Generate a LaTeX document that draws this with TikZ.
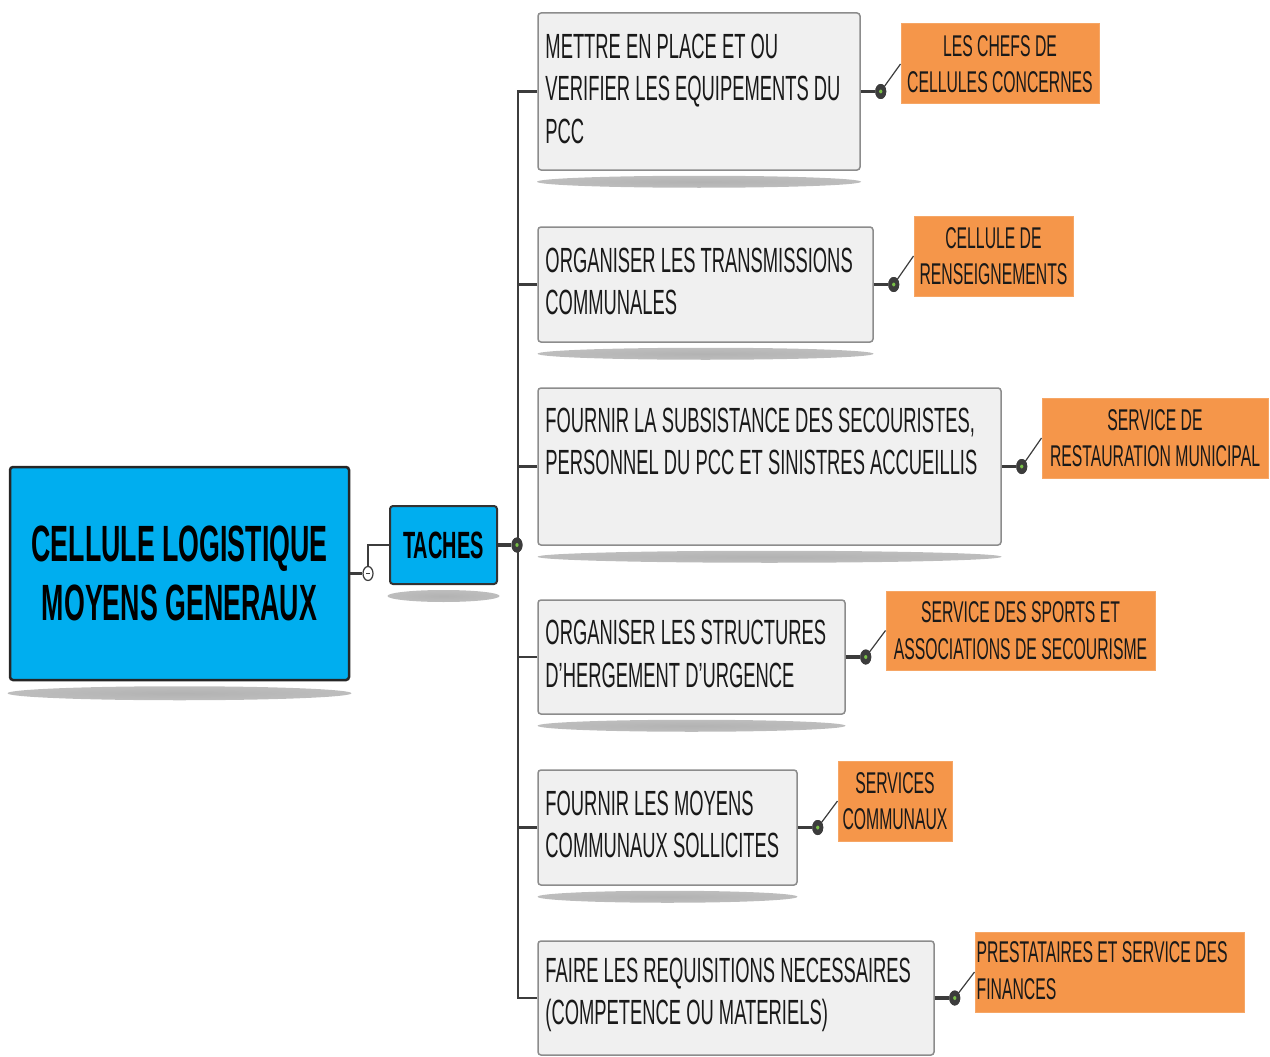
\documentclass[tikz,border=0pt]{standalone}
\usepackage{fontspec}
\setmainfont{Liberation Sans}[FakeStretch=0.525]
\usetikzlibrary{calc,backgrounds,shapes.geometric}
\definecolor{rootblue}{RGB}{0,174,239}
\definecolor{taskfill}{RGB}{240,240,240}
\definecolor{taskline}{RGB}{140,140,140}
\definecolor{orangefill}{RGB}{245,150,74}
\definecolor{linkcol}{RGB}{60,60,60}
\definecolor{dotgreen}{RGB}{120,190,70}
\definecolor{txt}{RGB}{25,25,25}
\pgfdeclareradialshading{shadowshade}{\pgfpoint{0bp}{0bp}}{color(0bp)=(black!30); color(30bp)=(black!25); color(50bp)=(white)}
\begin{document}
\begin{tikzpicture}[x=1pt,y=-1pt,
  rootbox/.style={draw=black!85, line width=2.5pt, fill=rootblue, rounded corners=3pt,
    minimum width=339pt, minimum height=213pt, inner sep=0pt, align=center,
    font=\bfseries\fontsize{51}{59}\selectfont, text=black},
  tachebox/.style={draw=black!80, line width=2pt, fill=rootblue, rounded corners=3pt,
    minimum width=107pt, minimum height=78pt, inner sep=0pt, align=center,
    font=\bfseries\fontsize{38}{44}\selectfont, text=black},
  taskbox/.style={draw=taskline, line width=1.5pt, fill=taskfill, rounded corners=3pt, inner sep=0pt},
  tasktext/.style={anchor=west, inner sep=0pt, align=left,
    font=\fontsize{35}{42.5}\selectfont, text=txt},
  callout/.style={fill=orangefill, draw=orangefill!85!white, line width=1pt, inner sep=0pt,
    align=center, font=\fontsize{30}{36.5}\selectfont, text=txt},
  callouttext/.style={anchor=west, inner sep=0pt, align=left,
    font=\fontsize{30}{37}\selectfont, text=txt},
  link/.style={draw=linkcol, line width=2.2pt},
  thicklink/.style={draw=linkcol, line width=3.2pt},
  thinlink/.style={draw=linkcol, line width=1.2pt},
  smalldot/.style={ellipse, fill=linkcol, minimum width=11pt, minimum height=15pt, inner sep=0pt,
    path picture={\fill[dotgreen] (path picture bounding box.center) ellipse [x radius=1.6pt, y radius=2pt];}},
  minuscircle/.style={ellipse, draw=linkcol, line width=1.2pt, fill=white, minimum width=10pt, minimum height=14pt, inner sep=0pt,
    path picture={\draw[linkcol, line width=1pt] ($(path picture bounding box.center)+(-2,0)$) -- ($(path picture bounding box.center)+(2,0)$);}},
  shadowell/.style={shading=shadowshade}
]
\useasboundingbox (0,0) rectangle (1270,1057);

% main nodes
\node[rootbox] (root) at (179.5,573.5) {CELLULE LOGISTIQUE\\MOYENS GENERAUX};
\node[tachebox] (tache) at (443.5,545) {TACHES};

% task boxes
\node[taskbox, minimum width=322pt, minimum height=157pt] (t1) at (699,91.5) {};
\node[taskbox, minimum width=335pt, minimum height=115pt] (t2) at (705.5,284.5) {};
\node[taskbox, minimum width=463pt, minimum height=157pt] (t3) at (769.5,466.5) {};
\node[taskbox, minimum width=307pt, minimum height=114pt] (t4) at (691.5,657) {};
\node[taskbox, minimum width=259pt, minimum height=115pt] (t5) at (667.5,827.5) {};
\node[taskbox, minimum width=396pt, minimum height=114pt] (t6) at (736,998) {};

% task texts
\node[tasktext] (x1) at ($(t1.west)+(8,-3)$) {METTRE EN PLACE ET OU\\VERIFIER LES EQUIPEMENTS DU\\PCC};
\node[tasktext] (x2) at ($(t2.west)+(8,-3)$) {ORGANISER LES TRANSMISSIONS\\COMMUNALES};
\node[tasktext] (x3) at ($(t3.west)+(8,-25)$) {FOURNIR LA SUBSISTANCE DES SECOURISTES,\\PERSONNEL DU PCC ET SINISTRES ACCUEILLIS};
\node[tasktext] (x4) at ($(t4.west)+(8,-3)$) {ORGANISER LES STRUCTURES\\D'HERGEMENT D'URGENCE};
\node[tasktext] (x5) at ($(t5.west)+(8,-3)$) {FOURNIR LES MOYENS\\COMMUNAUX SOLLICITES};
\node[tasktext] (x6) at ($(t6.west)+(8,-3)$) {FAIRE LES REQUISITIONS NECESSAIRES\\(COMPETENCE OU MATERIELS)};

% callouts
\node[callout, minimum width=198pt, minimum height=80pt] (c1) at (1000,64) {LES CHEFS DE\\CELLULES CONCERNES};
\node[callout, minimum width=159pt, minimum height=80pt] (c2) at (993.5,256) {CELLULE DE\\RENSEIGNEMENTS};
\node[callout, minimum width=226pt, minimum height=80pt] (c3) at (1155,438) {SERVICE DE\\RESTAURATION MUNICIPAL};
\node[callout, minimum width=269pt, minimum height=79pt] (c4) at (1020.5,630.5) {SERVICE DES SPORTS ET\\ASSOCIATIONS DE SECOURISME};
\node[callout, minimum width=114pt, minimum height=80pt] (c5) at (895,801) {SERVICES\\COMMUNAUX};
\node[callout, minimum width=269pt, minimum height=80pt] (c6) at (1109.5,972) {};
\node[callouttext] (y6) at ($(c6.west)+(2,-1)$) {PRESTATAIRES ET SERVICE DES\\FINANCES};

% shadows
\begin{scope}[on background layer]
  \shade[shadowell] ($(root.south)+(0,12)$) ellipse [x radius=172, y radius=7];
  \shade[shadowell] ($(tache.south)+(0,11)$) ellipse [x radius=56, y radius=6];
  \foreach \t/\r in {t1/162,t2/168,t3/232,t4/154,t5/130,t6/198}{
    \shade[shadowell] ($(\t.south)+(0,11)$) ellipse [x radius=\r, y radius=6];
  }
\end{scope}

% root -> taches
\node[minuscircle] (rc) at (368,573.5) {};
\draw[thicklink] (root.east) -- (rc.west);
\draw[link] (rc.north) |- (tache.west);

% taches -> trunk
\node[smalldot] (td) at (517,545) {};
\coordinate (trunk) at (518,545);
\draw[thicklink] (tache.east) -- (td.west);
\draw[link] (t1.west) -| (trunk);
\draw[link] (t6.west) -| (trunk);
\foreach \t in {t2,t3,t4,t5}{
  \draw[link] (\t.west) -- (\t.west -| trunk);
}
\node[smalldot] at (517,545) {};

% task -> callout connectors
\foreach \i in {1,...,6}{
  \node[smalldot] (d\i) at ($(t\i.east)+(20,0)$) {};
  \draw[thicklink] (t\i.east) -- (d\i.west);
  \draw[thinlink] (d\i.center) -- (c\i.west);
  \node[smalldot] at (d\i) {};
}
\end{tikzpicture}
\end{document}
